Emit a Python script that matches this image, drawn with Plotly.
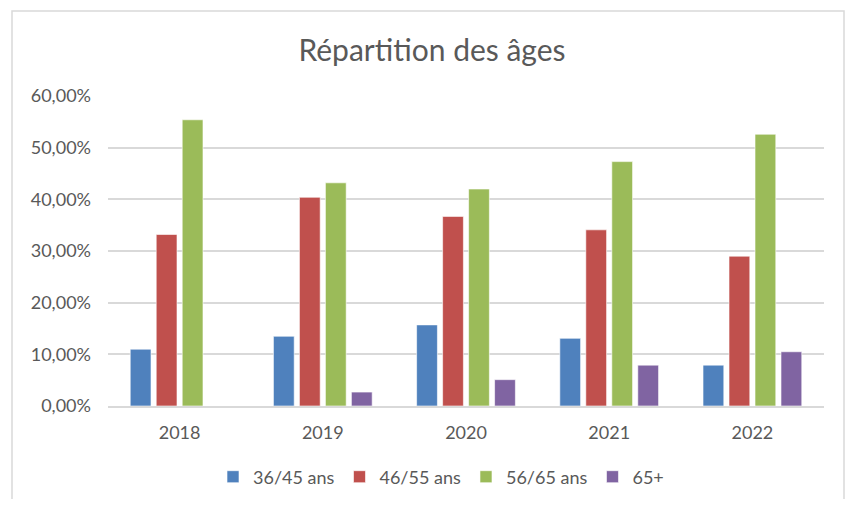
import plotly.graph_objects as go

years = ["2018", "2019", "2020", "2021", "2022"]
series_names = ["36/45 ans", "46/55 ans", "56/65 ans", "65+"]
val_36_45 = [0.110, 0.135, 0.157, 0.131, 0.079]
val_46_55 = [0.332, 0.404, 0.367, 0.341, 0.290]
val_56_65 = [0.554, 0.432, 0.420, 0.473, 0.526]
val_65p = [0.0, 0.027, 0.051, 0.079, 0.105]
colors = ["#4F81BD", "#C0504D", "#9BBB59", "#8064A2"]

# page body has an 8px margin, so the figure is a bit smaller than the window
W, H = 837, 491
ml, mr, mt, mb = 100, 21, 88, 93
pw, ph = W - ml - mr, H - mt - mb

fig = go.Figure()
for name, vals, col in zip(series_names, [val_36_45, val_46_55, val_56_65, val_65p], colors):
    fig.add_trace(go.Bar(x=years, y=vals, name=name,
                         marker=dict(color=col, line=dict(color="rgba(255,255,255,0.6)", width=1))))


def px_x(v):
    return (v - ml) / pw


def px_y(v):
    return (H - mb - v) / ph


# outer chart border (Excel style)
fig.add_shape(type="rect", xref="paper", yref="paper",
              x0=px_x(4), x1=px_x(836), y0=px_y(520), y1=px_y(3),
              line=dict(color="#D9D9D9", width=1.5), layer="below")

fig.update_layout(
    width=W, height=H,
    margin=dict(l=ml, r=mr, t=mt, b=mb, autoexpand=False),
    paper_bgcolor="white", plot_bgcolor="white",
    font=dict(family="Lato, Open Sans, sans-serif", color="#595959", size=18),
    separators=", ",
    title=dict(text="Répartition des âges", x=px_x(424), xanchor="center", xref="paper",
               y=1 - 42 / H, yanchor="middle",
               font=dict(size=30, color="#595959")),
    barmode="group", bargap=0.274, bargroupgap=0.2,
    legend=dict(orientation="h", x=px_x(433), xanchor="center", y=px_y(469), yanchor="middle",
                font=dict(size=18, color="#595959"), itemwidth=30,
                traceorder="normal"),
)
fig.update_yaxes(range=[0, 0.6], dtick=0.1, tickformat=".2%",
                 showgrid=True, gridcolor="#D9D9D9", gridwidth=1.5,
                 zeroline=False, showline=False, ticks="", ticklabelstandoff=16)
fig.update_xaxes(showline=True, linecolor="#D9D9D9", linewidth=1.5, ticks="",
                 showgrid=False, ticklabelstandoff=10)

fig.write_html("out.html")
